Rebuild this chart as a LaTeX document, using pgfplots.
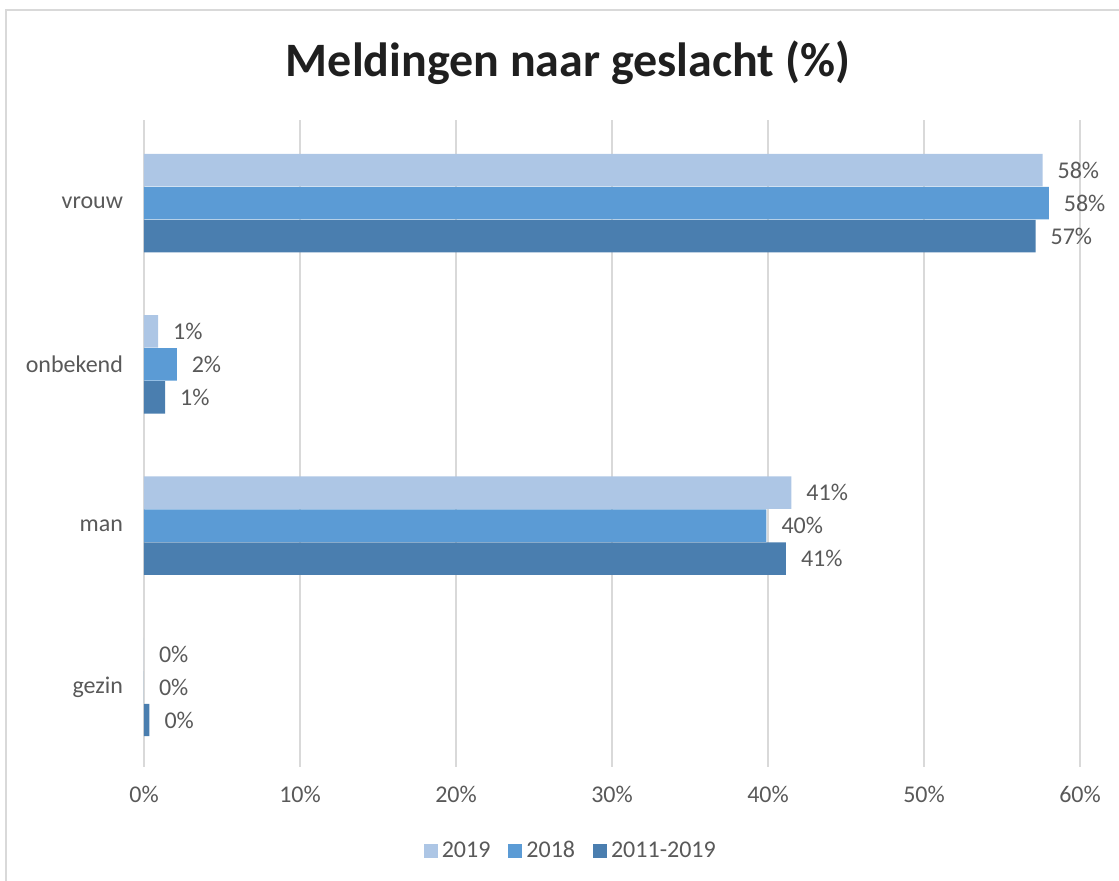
\documentclass[border=0pt]{standalone}
\usepackage{pgfplots}
\pgfplotsset{compat=1.18}
\usepackage{fontspec}
\setmainfont{Carlito}
\definecolor{cA}{HTML}{ADC6E5}
\definecolor{cB}{HTML}{5B9BD5}
\definecolor{cC}{HTML}{4A7EAF}
\definecolor{txt}{HTML}{595959}
\definecolor{gridc}{HTML}{D9D9D9}
\begin{document}
\begin{tikzpicture}
\path[use as bounding box] (0,0) rectangle (559.5pt,440.5pt);
\draw[gridc, line width=1pt] (3pt,-5pt) rectangle (565pt,435.5pt);
\node[font=\fontsize{24}{28}\selectfont\bfseries, text=black!88] at (284pt,409pt) {Meldingen naar geslacht (\%)};
\begin{axis}[
  at={(72pt,57pt)}, anchor=south west,
  xbar, scale only axis, width=468pt, height=323.5pt,
  xmin=0, xmax=60, ymin=-0.496, ymax=3.515,
  ytick={0,1,2,3}, yticklabels={gezin,man,onbekend,vrouw},
  xtick={0,10,...,60}, xticklabel={\pgfmathprintnumber{\tick}\%},
  /pgf/number format/assume math mode=true,
  axis line style={draw=none}, major tick length=0pt,
  xmajorgrids, grid style={gridc, line width=0.75pt},
  bar width=16.2pt,
  ticklabel style={font=\fontsize{12}{14}\selectfont, text=txt},
  yticklabel style={xshift=-7pt},
  xticklabel style={yshift=-6pt},
  nodes near coords, point meta=explicit symbolic,
  every node near coord/.append style={font=\fontsize{12}{14}\selectfont, text=txt, anchor=west, xshift=4pt},
  legend style={at={(0.457,-0.13)}, anchor=center, draw=none, legend columns=3,
    font=\fontsize{12}{14}\selectfont, text=txt,
    /tikz/every even column/.append style={column sep=7pt}},
  legend image code/.code={\fill[#1] (0pt,-3.5pt) rectangle (7pt,3.5pt);},
]
\addplot[fill=cA, draw=none, bar shift=16.5pt] coordinates {
  (57.6,3) [58\%] (0.9,2) [1\%] (41.5,1) [41\%] (0,0) [0\%]};
\addplot[fill=cB, draw=none, bar shift=0pt] coordinates {
  (58.0,3) [58\%] (2.1,2) [2\%] (39.9,1) [40\%] (0,0) [0\%]};
\addplot[fill=cC, draw=none, bar shift=-16.5pt] coordinates {
  (57.15,3) [57\%] (1.35,2) [1\%] (41.15,1) [41\%] (0.35,0) [0\%]};
\legend{2019,2018,2011-2019}
\end{axis}
\end{tikzpicture}
\end{document}
